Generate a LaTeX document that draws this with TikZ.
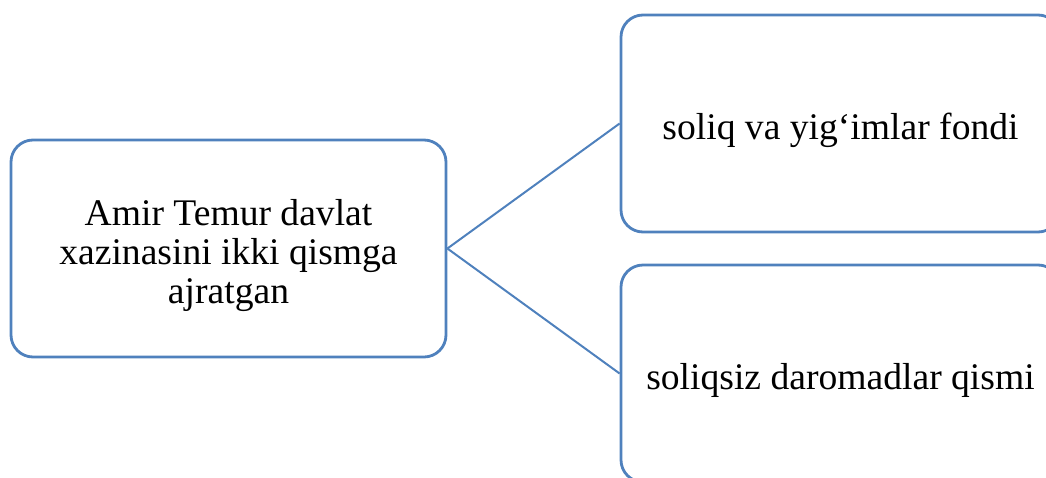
\documentclass[tikz,border=0pt]{standalone}
\usepackage{fontspec}
\setmainfont{Liberation Serif}
\definecolor{boxblue}{RGB}{79,129,189}
\newcommand{\boxtext}[1]{\raisebox{-7pt}[\height][\depth]{\parbox{425pt}{\centering\fontsize{37.6}{39}\selectfont #1}}}
\begin{document}
\begin{tikzpicture}[x=1pt,y=-1pt,
  box/.style={draw=boxblue, line width=2.8pt, rounded corners=22pt, fill=white,
    minimum height=217pt, inner sep=0pt},
  link/.style={draw=boxblue, line width=2pt}]
\useasboundingbox (0,0) rectangle (1046,477);
\clip (0,0) rectangle (1046,477);
\node[box, minimum width=435pt] (src) at (228.5,248.5)
  {\boxtext{Amir Temur davlat\\xazinasini ikki qismga\\ajratgan}};
\node[box, minimum width=439pt] (tax) at (840.5,123.5)
  {\boxtext{soliq va yig‘imlar fondi}};
\node[box, minimum width=439pt] (ntax) at (840.5,373.5)
  {\boxtext{soliqsiz daromadlar qismi}};
\draw[link] (src.east) -- (tax.west);
\draw[link] (src.east) -- (ntax.west);
\end{tikzpicture}
\end{document}
